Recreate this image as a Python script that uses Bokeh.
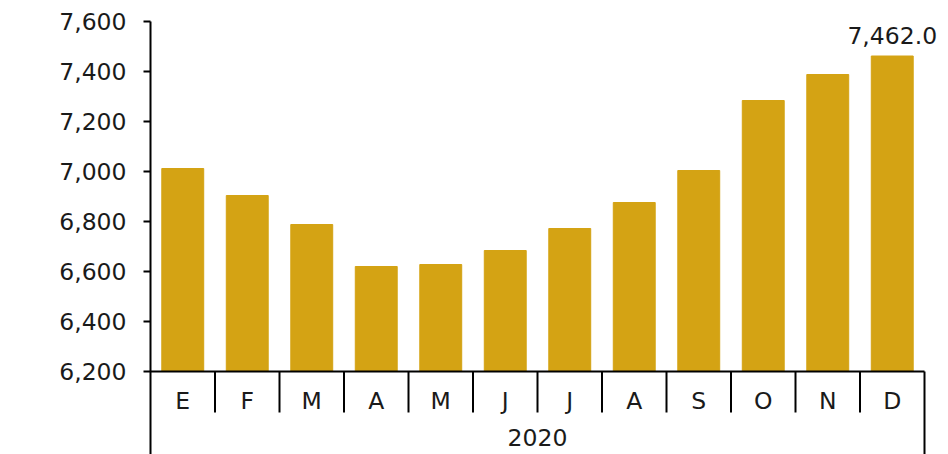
from bokeh.plotting import figure
from bokeh.models import (ColumnDataSource, Range1d, FixedTicker,
                          NumeralTickFormatter)
from bokeh.core.properties import value
from bokeh.embed import file_html
from bokeh.resources import INLINE

months = ["E", "F", "M", "A", "M", "J", "J", "A", "S", "O", "N", "D"]
values = [7012, 6904, 6788, 6620, 6628, 6684, 6772, 6876, 7004, 7284, 7388, 7462.0]
year = "2020"
last_label = "7,462.0"
y_ticks = [6200, 6400, 6600, 6800, 7000, 7200, 7400, 7600]

FONT = "DejaVu Sans"
FS = "23.5px"
BAR = "#D4A314"
INK = "#1a1a1a"

n = len(months)
base = y_ticks[0]
# vertical px -> data: 1400 units over 350 px = 4 units/px
UPP = (y_ticks[-1] - y_ticks[0]) / 350.0
y_bottom = base - 83 * UPP
x_right = n + 24 / (774 / n)

x = [i + 0.5 for i in range(n)]
src = ColumnDataSource(dict(x=x, top=values, m=months,
                            ly=[base - 29 * UPP] * n))

p = figure(width=948, height=454, output_backend="svg", toolbar_location=None,
           x_range=Range1d(0, x_right), y_range=Range1d(y_bottom, y_ticks[-1]),
           x_axis_location=None, min_border_left=150, min_border_right=0,
           min_border_top=21, min_border_bottom=0)
p.outline_line_color = None
p.grid.grid_line_color = None

p.vbar(x="x", top="top", bottom=base, width=0.65, source=src,
       fill_color=BAR, line_color=BAR)

# category axis drawn as segments
sep_x = list(range(1, n))
p.segment(x0=sep_x, y0=[base] * len(sep_x), x1=sep_x,
          y1=[base - 41 * UPP] * len(sep_x), line_color="black", line_width=2)
p.segment(x0=[0, n], y0=[base, base], x1=[n, n], y1=[base, y_bottom],
          line_color="black", line_width=2)
p.text(x="x", y="ly", text="m", source=src, text_align="center",
       text_baseline="middle", text_font=value(FONT), text_font_size=FS,
       text_color=INK)
p.text(x=[n / 2], y=[base - 66 * UPP], text=[year], text_align="center",
       text_baseline="middle", text_font=value(FONT), text_font_size=FS,
       text_color=INK)
p.text(x=[x[-1]], y=[values[-1]], text=[last_label], y_offset=-12,
       text_align="center", text_baseline="bottom", text_font=value(FONT),
       text_font_size=FS, text_color=INK)

ya = p.yaxis[0]
ya.ticker = FixedTicker(ticks=y_ticks)
ya.formatter = NumeralTickFormatter(format="0,0")
ya.bounds = (y_bottom, y_ticks[-1])
ya.major_label_text_font = FONT
ya.major_label_text_font_size = FS
ya.major_label_text_color = INK
ya.axis_line_color = "black"
ya.axis_line_width = 2
ya.major_tick_line_color = "black"
ya.major_tick_line_width = 2
ya.major_tick_in = 0
ya.major_tick_out = 7
ya.minor_tick_line_color = None
ya.major_label_standoff = 17

open("out.html", "w").write(file_html(p, INLINE))
